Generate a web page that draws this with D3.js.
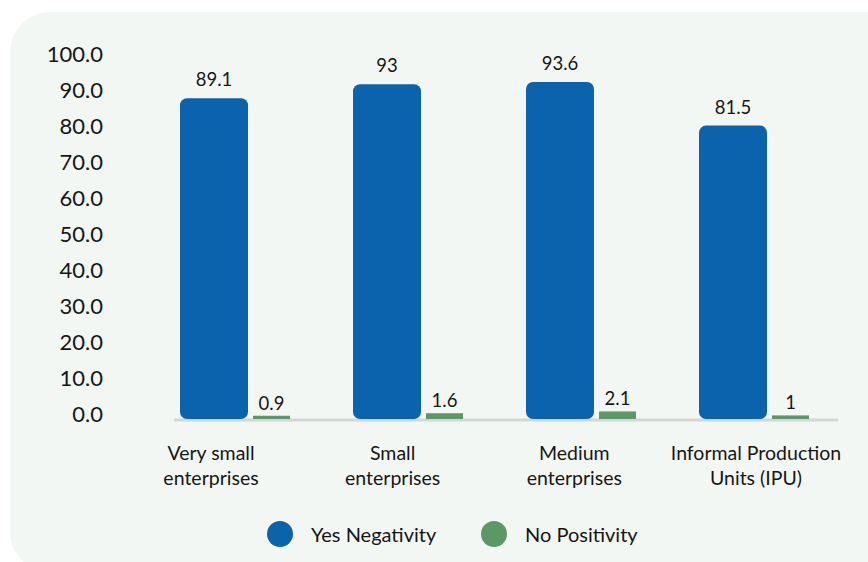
<!DOCTYPE html>
<html>
<head>
<meta charset="utf-8">
<script src="https://cdn.jsdelivr.net/npm/d3@7"></script>
<style>
  html, body { margin: 0; padding: 0; background: #ffffff; }
  svg { display: block; font-family: Lato, "Noto Sans", sans-serif; }
</style>
</head>
<body>
<svg id="chart" width="868" height="562"></svg>
<script>
// Share of enterprises by perception, per enterprise size
const categories = [
  "Very small\nenterprises",
  "Small\nenterprises",
  "Medium\nenterprises",
  "Informal Production\nUnits (IPU)"
];
const seriesNames = ["Yes Negativity", "No Positivity"];
const yesNegativity = [89.1, 93, 93.6, 81.5];
const noPositivity = [0.9, 1.6, 2.1, 1];
const yTicks = [0, 10, 20, 30, 40, 50, 60, 70, 80, 90, 100];
const colors = ["#0b63ad", "#5b9865"];

const svg = d3.select("#chart");

// Rounded panel behind the chart
svg.append("rect")
  .attr("x", 10).attr("y", 12)
  .attr("width", 900).attr("height", 560)
  .attr("rx", 40).attr("ry", 40)
  .attr("fill", "#f3f7f4");

const y = d3.scaleLinear().domain([0, 100]).range([419, 59]);

const x = d3.scaleBand().domain(categories).range([167, 859]).padding(0);
const labelX = d3.scalePoint().domain(categories).range([211, 756]);

// Y axis: labels only
const yAxis = svg.append("g")
  .attr("transform", "translate(103,0)")
  .call(d3.axisLeft(y).tickValues(yTicks).tickFormat(d3.format(".1f")).tickSize(0).tickPadding(0));
yAxis.select(".domain").remove();
yAxis.selectAll("text")
  .attr("font-family", "Lato, 'Noto Sans', sans-serif")
  .attr("font-size", 22)
  .attr("fill", "#161616")
  .attr("dy", "0.12em");

// Baseline
svg.append("line")
  .attr("x1", 174).attr("x2", 838)
  .attr("y1", y(0) + 1).attr("y2", y(0) + 1)
  .attr("stroke", "#d6d6d6").attr("stroke-width", 3);

const blueOffset = 13, blueW = 68, gap = 5, greenW = 37;

// Yes Negativity bars (rounded)
const gYes = svg.append("g");
yesNegativity.forEach((v, i) => {
  const c = categories[i];
  const bx = x(c) + blueOffset;
  gYes.append("rect")
    .attr("x", bx).attr("y", y(v))
    .attr("width", blueW).attr("height", y(0) - y(v))
    .attr("rx", 7).attr("ry", 7)
    .attr("fill", colors[0]);
  gYes.append("text")
    .attr("x", bx + blueW / 2).attr("y", y(v) - 12)
    .attr("text-anchor", "middle")
    .attr("font-size", 18.5).attr("fill", "#161616")
    .text(v);
});

// No Positivity bars (flat)
const gNo = svg.append("g");
noPositivity.forEach((v, i) => {
  const c = categories[i];
  const bx = x(c) + blueOffset + blueW + gap;
  gNo.append("rect")
    .attr("x", bx).attr("y", y(v))
    .attr("width", greenW).attr("height", y(0) - y(v))
    .attr("fill", colors[1]);
  gNo.append("text")
    .attr("x", bx + greenW / 2).attr("y", y(v) - 6)
    .attr("text-anchor", "middle")
    .attr("font-size", 18.5).attr("fill", "#161616")
    .text(v);
});

// Category labels, two lines each
const gCat = svg.append("g");
categories.forEach(c => {
  const t = gCat.append("text")
    .attr("x", labelX(c)).attr("y", 460)
    .attr("text-anchor", "middle")
    .attr("font-size", 19.5).attr("fill", "#161616");
  c.split("\n").forEach((line, k) => {
    t.append("tspan").attr("x", labelX(c)).attr("dy", k === 0 ? 0 : 25).text(line);
  });
});

// Legend
const legendX = [280, 494];
const gLeg = svg.append("g");
seriesNames.forEach((name, i) => {
  gLeg.append("circle")
    .attr("cx", legendX[i]).attr("cy", 534).attr("r", 13)
    .attr("fill", colors[i]);
  gLeg.append("text")
    .attr("x", legendX[i] + 31).attr("y", 534)
    .attr("dominant-baseline", "central")
    .attr("font-size", 20).attr("fill", "#161616")
    .text(name);
});
</script>
</body>
</html>
